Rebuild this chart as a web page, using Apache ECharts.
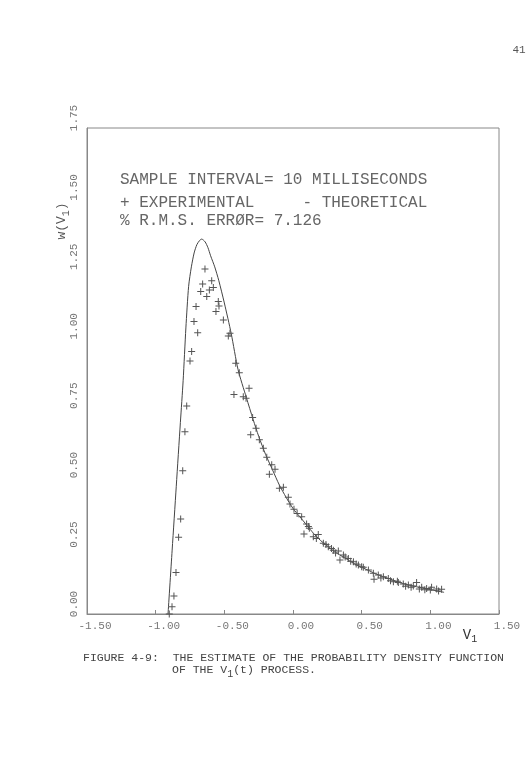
<!DOCTYPE html>
<html>
<head>
<meta charset="utf-8">
<script src="https://cdn.jsdelivr.net/npm/echarts@6/dist/echarts.min.js"></script>
<style>
  html, body { margin: 0; padding: 0; background: #fff; }
  #chart { width: 529px; height: 765px; }
</style>
</head>
<body>
<div id="chart"></div>
<script>
// experimental estimate (+ marks)
const expX = [
  -0.901, -0.881, -0.867, -0.852, -0.833, -0.818, -0.803, -0.787, -0.774, -0.750,
  -0.738, -0.721, -0.694, -0.706, -0.672, -0.628, -0.658, -0.609, -0.580, -0.592,
  -0.641, -0.561, -0.544, -0.539, -0.507, -0.471, -0.459, -0.417, -0.391, -0.320,
  -0.430, -0.362, -0.342, -0.294, -0.269, -0.308, -0.245, -0.216, -0.191, -0.155,
  -0.131, -0.172, -0.099, -0.070, -0.034, -0.022, 0.007, 0.030, 0.063, 0.099,
  0.119, 0.080, 0.112, 0.148, 0.170, 0.184, 0.221, 0.240, 0.257, 0.280,
  0.294, 0.310, 0.330, 0.342, 0.367, 0.380, 0.403, 0.420, 0.440, 0.460,
  0.476, 0.500, 0.512, 0.549, 0.585, 0.590, 0.621, 0.640, 0.658, 0.694,
  0.710, 0.731, 0.760, 0.767, 0.803, 0.820, 0.840, 0.860, 0.876, 0.900,
  0.920, 0.937, 0.960, 0.973, 1.000, 1.009, 1.046, 1.060, 1.082
];
const expY = [
  0.000, 0.026, 0.065, 0.149, 0.276, 0.342, 0.516, 0.656, 0.749, 0.911,
  0.945, 1.053, 1.013, 1.107, 1.161, 1.143, 1.188, 1.167, 1.176, 1.200,
  1.242, 1.089, 1.125, 1.109, 1.059, 1.001, 1.011, 0.903, 0.869, 0.813,
  0.790, 0.782, 0.777, 0.708, 0.669, 0.645, 0.627, 0.597, 0.564, 0.537,
  0.521, 0.503, 0.453, 0.456, 0.420, 0.396, 0.377, 0.362, 0.350, 0.324,
  0.309, 0.288, 0.315, 0.278, 0.272, 0.286, 0.255, 0.250, 0.242, 0.236,
  0.230, 0.220, 0.227, 0.194, 0.212, 0.205, 0.200, 0.190, 0.188, 0.180,
  0.176, 0.170, 0.168, 0.158, 0.147, 0.125, 0.140, 0.130, 0.134, 0.128,
  0.120, 0.116, 0.118, 0.113, 0.108, 0.100, 0.104, 0.096, 0.101, 0.113,
  0.090, 0.096, 0.087, 0.092, 0.086, 0.096, 0.090, 0.083, 0.089
];

// theoretical density (solid line)
const theoX = [
  -0.910, -0.880, -0.850, -0.820, -0.800, -0.780, -0.760, -0.740, -0.720, -0.700,
  -0.680, -0.665, -0.640, -0.620, -0.600, -0.570, -0.540, -0.500, -0.450, -0.400,
  -0.340, -0.290, -0.250, -0.200, -0.150, -0.100, -0.050, 0.000, 0.050, 0.100,
  0.150, 0.200, 0.250, 0.300, 0.350, 0.400, 0.450, 0.500, 0.550, 0.600,
  0.700, 0.800, 0.900, 1.000, 1.100
];
const theoY = [
  0.000, 0.230, 0.460, 0.690, 0.840, 1.030, 1.180, 1.250, 1.300, 1.330,
  1.345, 1.350, 1.340, 1.320, 1.290, 1.250, 1.200, 1.120, 1.010, 0.880,
  0.780, 0.700, 0.640, 0.575, 0.520, 0.465, 0.420, 0.380, 0.350, 0.320,
  0.290, 0.265, 0.245, 0.225, 0.210, 0.195, 0.180, 0.168, 0.157, 0.145,
  0.127, 0.110, 0.098, 0.088, 0.078
];

const headerLines = [
  "SAMPLE INTERVAL= 10 MILLISECONDS",
  "+ EXPERIMENTAL     - THEORETICAL",
  "% R.M.S. ERRØR= 7.126",
];

const ink = "#444";
const mono = "Liberation Mono";

let myChart = echarts.init(document.getElementById("chart"), null, { renderer: "canvas" });

const plus = "path://M0,3h7v1h-7z M3,0h1v7h-1z";

let option = {
  animation: false,
  backgroundColor: "#fff",
  grid: {
    left: 87,
    top: 128,
    width: 412,
    height: 486,
    show: true,
    borderColor: "#888",
    borderWidth: 1,
    containLabel: false,
    outerBoundsMode: "none",
  },
  xAxis: {
    type: "value",
    min: -1.5,
    max: 1.5,
    interval: 0.5,
    axisLine: { show: true, onZero: false, lineStyle: { color: "#888", width: 1 } },
    axisTick: { show: true, inside: true, length: 4, lineStyle: { color: "#888" } },
    splitLine: { show: false },
    axisLabel: {
      margin: 7,
      padding: [0, 0, 0, 16],
      fontFamily: mono,
      fontSize: 11,
      color: "#777",
      formatter: (v) => v.toFixed(2),
    },
  },
  yAxis: {
    type: "value",
    min: 0,
    max: 1.75,
    interval: 0.25,
    axisLine: { show: true, onZero: false, lineStyle: { color: "#888", width: 1 } },
    axisTick: { show: false },
    splitLine: { show: false },
    axisLabel: {
      rotate: 90,
      margin: 7,
      padding: [0, 0, 0, 20],
      fontFamily: mono,
      fontSize: 11,
      color: "#777",
      formatter: (v) => v.toFixed(2),
    },
  },
  series: [
    {
      name: "THEORETICAL",
      type: "line",
      data: theoX.map((x, i) => [x, theoY[i]]),
      showSymbol: false,
      smooth: 0.25,
      lineStyle: { color: ink, width: 1 },
      z: 2,
    },
    {
      name: "EXPERIMENTAL",
      type: "scatter",
      data: expX.map((x, i) => [x, expY[i]]),
      symbol: plus,
      symbolSize: 7,
      itemStyle: { color: "#555", opacity: 1 },
      z: 3,
    },
  ],
  graphic: [
    // header text inside the plot
    ...headerLines.map((t, i) => ({
      type: "text",
      x: 120,
      y: [180, 203, 221][i],
      style: {
        text: t,
        font: "16px '" + mono + "'",
        fill: "#666",
        verticalAlign: "middle",
        align: "left",
      },
    })),
    // y axis name, rotated
    {
      type: "text",
      x: 62,
      y: 221,
      rotation: Math.PI / 2,
      style: {
        text: "{a|w(V}{s|1}{a|)}",
        align: "center",
        verticalAlign: "middle",
        rich: {
          a: { fontFamily: mono, fontSize: 13, fill: "#555" },
          s: { fontFamily: mono, fontSize: 10, fill: "#555", padding: [9, 0, 0, 0] },
        },
      },
    },
    // x axis name
    {
      type: "text",
      x: 470,
      y: 635,
      style: {
        text: "{a|V}{s|1}",
        align: "center",
        verticalAlign: "middle",
        rich: {
          a: { fontFamily: mono, fontSize: 14, fill: "#333" },
          s: { fontFamily: mono, fontSize: 10, fill: "#333", padding: [9, 0, 0, 0] },
        },
      },
    },
    // caption
    {
      type: "text",
      x: 83,
      y: 658,
      style: {
        text: "FIGURE 4-9:  THE ESTIMATE OF THE PROBABILITY DENSITY FUNCTION",
        font: "11.5px '" + mono + "'",
        fill: "#444",
        verticalAlign: "middle",
      },
    },
    {
      type: "text",
      x: 172,
      y: 670,
      style: {
        text: "{a|OF THE V}{s|1}{a|(t) PROCESS.}",
        verticalAlign: "middle",
        rich: {
          a: { fontFamily: mono, fontSize: 11.5, fill: "#444" },
          s: { fontFamily: mono, fontSize: 10, fill: "#444", padding: [8, 0, 0, 0] },
        },
      },
    },
    // page number
    {
      type: "text",
      x: 519,
      y: 50,
      style: {
        text: "41",
        font: "11px '" + mono + "'",
        fill: "#555",
        align: "center",
        verticalAlign: "middle",
      },
    },
  ],
};
myChart.setOption(option);
</script>
</body>
</html>
